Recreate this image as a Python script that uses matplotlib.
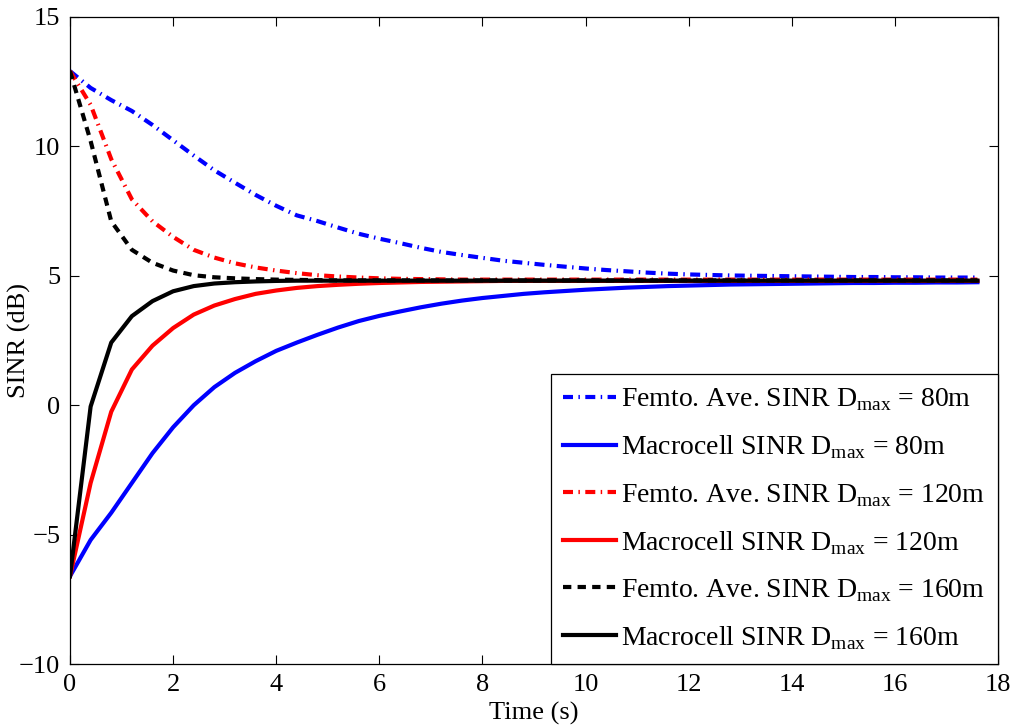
import numpy as np
from matplotlib import pyplot as plt

plt.rcParams['font.family'] = ['Liberation Serif', 'DejaVu Serif']
plt.rcParams['mathtext.fontset'] = 'custom'
plt.rcParams['mathtext.rm'] = 'Liberation Serif'

# time axis, 0.4 s steps up to 17.6 s
time_s = np.round(np.arange(45) * 0.4, 1)

femto_80 = [12.9, 12.25, 11.78, 11.36, 10.82, 10.23, 9.64, 9.07, 8.59, 8.12,
            7.7, 7.33, 7.11, 6.86, 6.62, 6.43, 6.26, 6.08, 5.92, 5.8,
            5.69, 5.58, 5.5, 5.42, 5.35, 5.28, 5.22, 5.17, 5.12, 5.08,
            5.05, 5.03, 5.01, 5.0, 4.99, 4.98, 4.97, 4.96, 4.95, 4.95,
            4.94, 4.94, 4.93, 4.93, 4.93]
macro_80 = [-6.6, -5.2, -4.15, -3.0, -1.85, -0.85, 0.0, 0.7, 1.25, 1.7,
            2.1, 2.42, 2.72, 3.0, 3.25, 3.45, 3.62, 3.78, 3.92, 4.04,
            4.14, 4.22, 4.3, 4.36, 4.41, 4.46, 4.5, 4.54, 4.57, 4.6,
            4.62, 4.64, 4.66, 4.67, 4.68, 4.69, 4.7, 4.71, 4.72, 4.72,
            4.73, 4.73, 4.74, 4.74, 4.75]
femto_120 = [12.9, 11.6, 9.5, 7.95, 7.1, 6.5, 6.0, 5.7, 5.48, 5.32,
             5.2, 5.1, 5.02, 4.97, 4.93, 4.9, 4.88, 4.87, 4.86, 4.85] + [4.85] * 25
macro_120 = [-6.6, -3.0, -0.25, 1.38, 2.3, 2.98, 3.5, 3.85, 4.1, 4.3,
             4.43, 4.53, 4.6, 4.65, 4.69, 4.72, 4.74, 4.76, 4.77, 4.78,
             4.79] + [4.8] * 24
femto_160 = [12.9, 10.2, 7.1, 6.0, 5.5, 5.2, 5.02, 4.94, 4.9, 4.87,
             4.85, 4.84, 4.83] + [4.82] * 32
macro_160 = [-6.6, -0.05, 2.42, 3.44, 4.02, 4.4, 4.6, 4.7, 4.75, 4.78,
             4.8] + [4.81] * 34

labels = [
    'Femto. Ave. SINR D$_{\\mathrm{max}}$ = 80m',
    'Macrocell SINR D$_{\\mathrm{max}}$ = 80m',
    'Femto. Ave. SINR D$_{\\mathrm{max}}$ = 120m',
    'Macrocell SINR D$_{\\mathrm{max}}$ = 120m',
    'Femto. Ave. SINR D$_{\\mathrm{max}}$ = 160m',
    'Macrocell SINR D$_{\\mathrm{max}}$ = 160m',
]

DASHDOT = (0, (2.4, 1.3, 0.35, 1.3))
DASHED = (0, (2.0, 1.5))
LW = 3.0

fig = plt.figure(figsize=(10.16, 7.26), dpi=100)
ax = fig.add_axes([0.0689, 0.085, 0.9134, 0.892])

ax.plot(time_s, femto_80, color='#0000ff', lw=LW, linestyle=DASHDOT, label=labels[0])
ax.plot(time_s, macro_80, color='#0000ff', lw=LW, linestyle='-', label=labels[1])
ax.plot(time_s, femto_120, color='#ff0000', lw=LW, linestyle=DASHDOT, label=labels[2])
ax.plot(time_s, macro_120, color='#ff0000', lw=LW, linestyle='-', label=labels[3])
ax.plot(time_s, femto_160, color='black', lw=LW, linestyle=DASHED, label=labels[4])
ax.plot(time_s, macro_160, color='black', lw=LW, linestyle='-', label=labels[5])

ax.set_xlim(0, 18)
ax.set_ylim(-10, 15)
ax.set_xticks(np.arange(0, 19, 2))
ax.set_yticks(np.arange(-10, 16, 5))
ax.tick_params(direction='in', length=6.5, width=0.8, labelsize=19,
               top=True, right=True, pad=7)
for sp in ax.spines.values():
    sp.set_linewidth(0.9)

ax.set_xlabel('Time (s)', fontsize=19, labelpad=4)
ax.set_ylabel('SINR (dB)', fontsize=19)
ax.yaxis.set_label_coords(-0.042, 0.5)

leg = ax.legend(loc='lower right', fontsize=20, frameon=True, fancybox=False,
                borderaxespad=0, handlelength=1.9, handletextpad=0.2,
                labelspacing=0.73, borderpad=0.45, framealpha=1)
leg.get_frame().set_edgecolor('black')
leg.get_frame().set_linewidth(0.9)

fig.savefig('out.png', dpi=100)
